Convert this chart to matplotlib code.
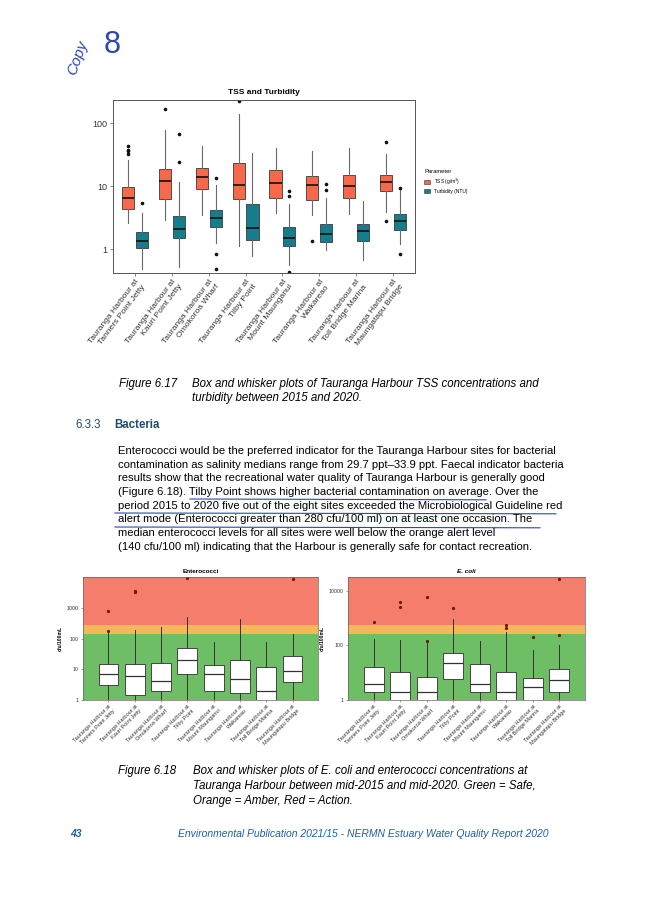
import matplotlib
matplotlib.use("Agg")
import matplotlib.pyplot as plt
from matplotlib.patches import Patch

plt.rcParams['font.family'] = ['Liberation Sans', 'DejaVu Sans']

W, H = 645, 911

# - - - - Data - - - -
sites = ["Tauranga Harbour at\nTanners Point Jetty", "Tauranga Harbour at\nKauri Point Jetty",
         "Tauranga Harbour at\nOmokoroa Wharf", "Tauranga Harbour at\nTilby Point",
         "Tauranga Harbour at\nMount Maunganui", "Tauranga Harbour at\nWaikareao",
         "Tauranga Harbour at\nToll Bridge Marina", "Tauranga Harbour at\nMaungatapu Bridge"]

# TSS (g/m3)
tss_q1 = [4.4, 6.3, 9.1, 6.3, 6.6, 6.0, 6.6, 8.3]
tss_med = [6.5, 12.1, 14.0, 10.3, 11.2, 10.3, 10.1, 11.8]
tss_q3 = [9.7, 18.7, 19.4, 23.3, 17.8, 14.3, 14.8, 15.2]
tss_lo = [2.6, 2.95, 3.45, 1.13, 3.8, 3.45, 3.6, 3.9]
tss_hi = [25.6, 78, 43.8, 140, 40.7, 36, 40.7, 32.7]
tss_out = [[44, 38, 35.6, 32.7], [166], [], [225], [], [1.34], [], [50, 2.77]]

# Turbidity (NTU)
turb_q1 = [1.06, 1.48, 2.26, 1.39, 1.13, 1.31, 1.34, 2.05]
turb_med = [1.36, 2.1, 3.13, 2.18, 1.53, 1.73, 1.95, 2.77]
turb_q3 = [1.88, 3.37, 4.25, 5.3, 2.26, 2.55, 2.49, 3.67]
turb_lo = [0.49, 0.52, 1.25, 0.77, 0.56, 0.99, 0.67, 1.23]
turb_hi = [3.8, 11.5, 10.3, 33.5, 5.3, 6.6, 5.8, 9.1]
turb_out = [[5.5], [24.4, 67.8], [13.7, 0.85, 0.49], [], [8.3, 7.0, 0.43], [10.9, 8.8], [], [9.3, 0.85]]

# Enterococci (cfu/100mL)
ent_q1 = [3.0, 1.43, 1.98, 7.2, 1.98, 1.66, 1.0, 3.9]
ent_med = [7.2, 6.2, 4.1, 21, 7.2, 5.0, 2.03, 9.0]
ent_q3 = [15, 15, 15.8, 50, 14.3, 20.3, 11.6, 27.5]
ent_lo = [1, 1, 1, 1, 1, 1, 1, 1]
ent_hi = [150, 193, 236, 505, 80, 435, 76, 142]
ent_out = [[175, 800], [3800, 3380], [], [10000], [], [], [], [9300]]
ent_bands = [140, 280]

# E. coli (cfu/100mL)
eco_q1 = [1.96, 1.0, 1.0, 6.1, 1.96, 1.0, 1.0, 1.96]
eco_med = [4.0, 1.96, 1.96, 22.8, 4.0, 1.96, 3.05, 5.6]
eco_q3 = [15.8, 11, 7.1, 54, 20.4, 11, 6.5, 13.8]
eco_lo = [1, 1, 1, 1, 1, 1, 1, 1]
eco_hi = [175, 160, 148, 930, 140, 300, 70, 100]
eco_out = [[730], [3800, 2570], [150, 6000], [2400], [], [580, 440], [195], [250, 28000]]
eco_bands = [260, 550]


def make_stats(q1, med, q3, lo, hi, out):
    return [dict(q1=a, med=b, q3=c, whislo=d, whishi=e, fliers=f)
            for a, b, c, d, e, f in zip(q1, med, q3, lo, hi, out)]


def px_axes(fig, left, top, right, bottom):
    return fig.add_axes([left / W, 1 - bottom / H, (right - left) / W, (bottom - top) / H])


fig = plt.figure(figsize=(6.45, 9.11), dpi=100)
fig.patch.set_facecolor("white")

# - - - - TSS and Turbidity - - - -
ax1 = px_axes(fig, 113, 100, 415, 273)
ax1.set_yscale("log")
pos = list(range(1, 9))
tss_col = "#F8694B"
turb_col = "#167D8C"
for stats, off, col in [(make_stats(tss_q1, tss_med, tss_q3, tss_lo, tss_hi, tss_out), -0.1875, tss_col),
                        (make_stats(turb_q1, turb_med, turb_q3, turb_lo, turb_hi, turb_out), 0.1875, turb_col)]:
    ax1.bxp(stats, positions=[p + off for p in pos], widths=0.33, patch_artist=True,
            showcaps=False,
            boxprops=dict(facecolor=col, edgecolor="#3a3a3a", linewidth=0.6),
            medianprops=dict(color="#111111", linewidth=1.2),
            whiskerprops=dict(color="#6a6a6a", linewidth=0.8),
            flierprops=dict(marker="o", markersize=1.6, markerfacecolor="#111111",
                            markeredgecolor="#111111"))
ax1.set_xlim(0.4, 8.6)
ax1.set_ylim(0.42, 232)
ax1.set_yticks([1, 10, 100])
ax1.set_yticklabels(["1", "10", "100"], fontsize=6.5, color="#333333")
ax1.minorticks_off()
ax1.set_xticks(pos)
ax1.set_xticklabels(sites, rotation=53, ha="right", rotation_mode="anchor",
                    fontsize=6.1, color="#333333", multialignment="right")
ax1.tick_params(length=2, width=0.5, color="#555555", pad=2)
for s in ax1.spines.values():
    s.set_color("#555555")
    s.set_linewidth(0.7)
ax1.set_title("TSS and Turbidity", fontsize=6, fontweight="bold", pad=4)

fig.legend(handles=[Patch(facecolor=tss_col, edgecolor="#333333", linewidth=0.4, label="TSS (g/m$^3$)"),
                    Patch(facecolor=turb_col, edgecolor="#333333", linewidth=0.4, label="Turbidity (NTU)")],
           title="Parameter", loc="upper left", bbox_to_anchor=(421 / W, 1 - 166 / H),
           frameon=False, fontsize=3.5, title_fontsize=4.2, handlelength=1.1, handleheight=0.9,
           labelspacing=0.4, alignment="left", borderpad=0.2)

# - - - - Bacteria panels - - - -
band_cols = ["#6EBE66", "#F6B65A", "#F47D6B"]


def bacteria(ax, stats, bands, ylim, yticks, title, italic):
    ax.set_yscale("log")
    ax.axhspan(0.5, bands[0], color=band_cols[0], lw=0, zorder=0)
    ax.axhspan(bands[0], bands[1], color=band_cols[1], lw=0, zorder=0)
    ax.axhspan(bands[1], 1e6, color=band_cols[2], lw=0, zorder=0)
    ax.bxp(stats, positions=pos, widths=0.75, patch_artist=True, showcaps=False,
           boxprops=dict(facecolor="white", edgecolor="#444444", linewidth=0.7),
           medianprops=dict(color="#333333", linewidth=0.9),
           whiskerprops=dict(color="#333333", linewidth=0.7),
           flierprops=dict(marker="o", markersize=1.3, markerfacecolor="#6a1a12",
                           markeredgecolor="#6a1a12"))
    ax.set_xlim(0.03, 8.97)
    ax.set_ylim(*ylim)
    ax.set_yticks(yticks)
    ax.set_yticklabels([str(t) for t in yticks], fontsize=3.8, color="#333333")
    ax.minorticks_off()
    ax.set_xticks(pos)
    ax.set_xticklabels(sites, rotation=45, ha="right", rotation_mode="anchor",
                       fontsize=4.0, color="#333333", multialignment="right")
    ax.tick_params(length=1.5, width=0.4, color="#555555", pad=1.5)
    for s in ax.spines.values():
        s.set_color("#666666")
        s.set_linewidth(0.5)
    ax.set_ylabel("cfu/100mL", fontsize=3.6, fontweight="bold", labelpad=3)
    ax.set_title(title, fontsize=4.6, fontweight="bold", style="italic" if italic else "normal", pad=3)


ax2 = px_axes(fig, 83, 577, 318, 700)
bacteria(ax2, make_stats(ent_q1, ent_med, ent_q3, ent_lo, ent_hi, ent_out), ent_bands,
         (1, 10500), [1, 10, 100, 1000], "Enterococci", False)
ax3 = px_axes(fig, 348, 577, 585, 700)
bacteria(ax3, make_stats(eco_q1, eco_med, eco_q3, eco_lo, eco_hi, eco_out), eco_bands,
         (1, 32000), [1, 100, 10000], "E. coli", True)

# - - - - Page text - - - -
def ftext(x, y, s, **kw):
    fig.text(x / W, 1 - y / H, s, **kw)


cap = 8.3
body = 8.1
ftext(119, 384, "Figure 6.17", fontsize=cap, style="italic", va="center")
ftext(192, 384, "Box and whisker plots of Tauranga Harbour TSS concentrations and", fontsize=cap, style="italic", va="center")
ftext(192, 398, "turbidity between 2015 and 2020.", fontsize=cap, style="italic", va="center")

ftext(75, 425, "6.3.3", fontsize=cap, color="#1C4F6B", va="center")
ftext(114, 425, "Bacteria", fontsize=cap, color="#1C4F6B", fontweight="bold", va="center")

lines = ["Enterococci would be the preferred indicator for the Tauranga Harbour sites for bacterial",
         "contamination as salinity medians range from 29.7 ppt\u201333.9 ppt. Faecal indicator bacteria",
         "results show that the recreational water quality of Tauranga Harbour is generally good",
         "(Figure 6.18). Tilby Point shows higher bacterial contamination on average. Over the",
         "period 2015 to 2020 five out of the eight sites exceeded the Microbiological Guideline red",
         "alert mode (Enterococci greater than 280 cfu/100 ml) on at least one occasion. The",
         "median enterococci levels for all sites were well below the orange alert level",
         "(140 cfu/100 ml) indicating that the Harbour is generally safe for contact recreation."]
for i, ln in enumerate(lines):
    ftext(118, 451 + i * 13.7, ln, fontsize=body, va="center")

# pen underlines
pen = "#2B47B0"
for x0, x1, y in [(190, 486, 499), (115, 556, 513), (115, 540, 527)]:
    fig.add_artist(plt.Line2D([x0 / W, x1 / W], [1 - y / H, 1 - (y + 0.8) / H], color=pen, lw=0.8))

ftext(118, 771, "Figure 6.18", fontsize=cap, style="italic", va="center")
ftext(193, 771, "Box and whisker plots of E. coli and enterococci concentrations at", fontsize=cap, style="italic", va="center")
ftext(193, 786, "Tauranga Harbour between mid-2015 and mid-2020. Green = Safe,", fontsize=cap, style="italic", va="center")
ftext(193, 801, "Orange = Amber, Red = Action.", fontsize=cap, style="italic", va="center")

ftext(70, 834, "43", fontsize=7.5, color="#1F5FA8", fontweight="bold", style="italic", va="center")
ftext(548, 834, "Environmental Publication 2021/15 - NERMN Estuary Water Quality Report 2020",
      fontsize=7.5, color="#1F5FA8", style="italic", va="center", ha="right")

# handwritten note
ftext(78, 58, "Copy", fontsize=11, color=pen, style="italic", rotation=70, va="center", ha="center")
ftext(112, 45, "8", fontsize=22, color=pen, va="center", ha="center")

fig.savefig("out.png", dpi=100)
